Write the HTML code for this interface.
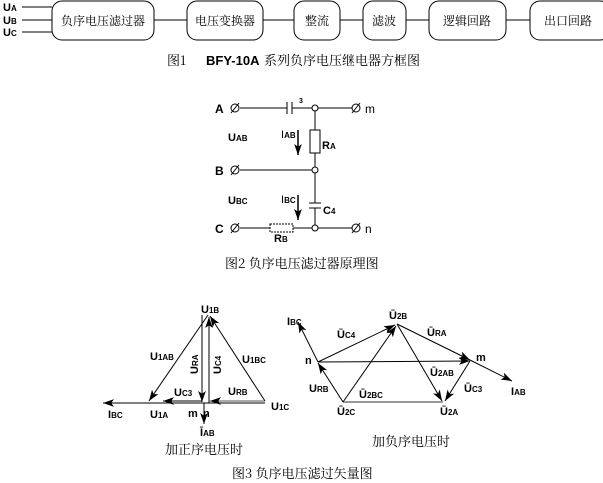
<!DOCTYPE html>
<html><head><meta charset="utf-8"><style>
html,body{margin:0;padding:0;background:#fff;width:603px;height:483px;overflow:hidden}
svg{display:block}
text{font-family:"Liberation Sans","Noto Sans CJK SC",sans-serif;fill:#000}
.cj{font-family:"Noto Serif CJK SC","Noto Sans CJK SC",serif}
</style></head><body>
<svg width="603" height="483" viewBox="0 0 603 483" xmlns="http://www.w3.org/2000/svg">
<defs>
<marker id="ahb" viewBox="0 0 10 10" refX="10" refY="5" markerWidth="11" markerHeight="11" orient="auto" markerUnits="userSpaceOnUse"><path d="M0,1.5 L10,5 L0,8.5 L2.5,5 Z" fill="#000"/></marker>
</defs>
<g stroke="#000" fill="none" stroke-width="1">
<!-- Fig1 -->
<line x1="22" y1="7" x2="52" y2="7"/><line x1="22" y1="20" x2="52" y2="20"/><line x1="22" y1="32" x2="52" y2="32"/>
<rect x="52" y="1" width="102" height="39" rx="10"/>
<rect x="187" y="1" width="76" height="39" rx="10"/>
<rect x="294" y="1" width="46" height="39" rx="10"/>
<rect x="363" y="1" width="43" height="39" rx="10"/>
<rect x="429" y="1" width="77" height="39" rx="10"/>
<rect x="530" y="1" width="80" height="39" rx="10"/>
<line x1="154" y1="20" x2="187" y2="20"/><line x1="263" y1="20" x2="294" y2="20"/><line x1="340" y1="20" x2="363" y2="20"/><line x1="406" y1="20" x2="429" y2="20"/><line x1="506" y1="20" x2="530" y2="20"/>
<!-- Fig2 -->
<line x1="240" y1="108" x2="287" y2="108"/><line x1="287" y1="102" x2="287" y2="114"/><line x1="292" y1="102" x2="292" y2="114"/>
<line x1="292" y1="108" x2="312" y2="108"/><line x1="318" y1="108" x2="352" y2="108"/>
<line x1="240" y1="170" x2="312" y2="170"/>
<line x1="240" y1="228" x2="270" y2="228"/><line x1="293" y1="228" x2="312" y2="228"/><line x1="318" y1="228" x2="352" y2="228"/>
<line x1="315" y1="111" x2="315" y2="130"/><rect x="310" y="130" width="10" height="23"/><line x1="315" y1="153" x2="315" y2="167"/>
<line x1="315" y1="173" x2="315" y2="203"/><line x1="309" y1="203" x2="321" y2="203"/><line x1="309" y1="208" x2="321" y2="208"/><line x1="315" y1="208" x2="315" y2="225"/>
<rect x="270" y="224" width="23" height="8" stroke-dasharray="2 1"/>
<circle cx="315" cy="108" r="3"/><circle cx="315" cy="170" r="3"/><circle cx="315" cy="228" r="3"/>
<g><circle cx="235" cy="108" r="4"/><line x1="231" y1="113" x2="239" y2="103"/>
<circle cx="235" cy="170" r="4"/><line x1="231" y1="175" x2="239" y2="165"/>
<circle cx="235" cy="228" r="4"/><line x1="231" y1="233" x2="239" y2="223"/>
<circle cx="356" cy="108" r="4"/><line x1="352" y1="113" x2="360" y2="103"/>
<circle cx="356" cy="228" r="4"/><line x1="352" y1="233" x2="360" y2="223"/></g>
<line x1="298" y1="130" x2="298" y2="155" marker-end="url(#ahb)" stroke-width="1.5"/>
<line x1="298" y1="195" x2="298" y2="220" marker-end="url(#ahb)" stroke-width="1.5"/>
<!-- Fig3 left -->
<line x1="265" y1="403" x2="103" y2="403" marker-end="url(#ahb)"/>
<line x1="208" y1="315" x2="149" y2="401" marker-end="url(#ahb)"/>
<line x1="265" y1="401" x2="210" y2="316" marker-end="url(#ahb)"/>
<line x1="202" y1="315" x2="202" y2="402" marker-end="url(#ahb)"/>
<line x1="209" y1="403" x2="209" y2="317" marker-end="url(#ahb)"/>
<line x1="202" y1="401" x2="163" y2="401" marker-end="url(#ahb)"/>
<line x1="265" y1="401" x2="210" y2="401" marker-end="url(#ahb)" stroke="#555"/>
<line x1="204" y1="403" x2="204" y2="424" marker-end="url(#ahb)"/>
<!-- Fig3 right -->
<line x1="343" y1="402" x2="443" y2="402" stroke="#777" stroke-width="1.5"/>
<line x1="318" y1="362" x2="395" y2="325" marker-end="url(#ahb)"/>
<line x1="343" y1="402" x2="396" y2="326" marker-end="url(#ahb)"/>
<line x1="343" y1="402" x2="318" y2="363" marker-end="url(#ahb)"/>
<line x1="318" y1="362" x2="298" y2="322" marker-end="url(#ahb)"/>
<line x1="318" y1="362" x2="470" y2="361" marker-end="url(#ahb)"/>
<line x1="397" y1="324" x2="470" y2="360" marker-end="url(#ahb)"/>
<line x1="470" y1="360" x2="512" y2="381" marker-end="url(#ahb)"/>
<line x1="397" y1="324" x2="442" y2="401" marker-end="url(#ahb)"/>
<line x1="470" y1="361" x2="445" y2="401" marker-end="url(#ahb)"/>
</g>
<!-- texts -->
<g font-size="11" font-weight="bold">
<text x="3" y="11">U<tspan font-size="8">A</tspan></text>
<text x="3" y="24">U<tspan font-size="8">B</tspan></text>
<text x="3" y="36">U<tspan font-size="8">C</tspan></text>
</g>
<g font-size="12">
<text x="103" y="25" text-anchor="middle" class="cj">负序电压滤过器</text>
<text x="225" y="25" text-anchor="middle" class="cj">电压变换器</text>
<text x="317" y="25" text-anchor="middle" class="cj">整流</text>
<text x="384" y="25" text-anchor="middle" class="cj">滤波</text>
<text x="467" y="25" text-anchor="middle" class="cj">逻辑回路</text>
<text x="568" y="25" text-anchor="middle" class="cj">出口回路</text>
</g>
<text x="167" y="65" font-size="13" class="cj">图1</text>
<text x="206" y="65" font-size="13" font-weight="bold">BFY-10A</text>
<text x="264" y="65" font-size="13" class="cj">系列负序电压继电器方框图</text>
<g font-size="12" font-weight="bold">
<text x="215" y="113">A</text><text x="215" y="175">B</text><text x="215" y="233">C</text>
<text x="365" y="113" font-weight="normal">m</text><text x="365" y="233" font-weight="normal">n</text>
<text x="228" y="141" font-size="11">U<tspan font-size="8">AB</tspan></text>
<text x="228" y="204" font-size="11">U<tspan font-size="8">BC</tspan></text>
<text x="281" y="138" font-size="11" font-weight="normal">I<tspan font-size="8" font-weight="bold">AB</tspan></text>
<text x="281" y="203" font-size="11" font-weight="normal">I<tspan font-size="8" font-weight="bold">BC</tspan></text>
<text x="322" y="149" font-size="11">R<tspan font-size="8">A</tspan></text>
<text x="323" y="214" font-size="11">C<tspan font-size="8">4</tspan></text>
<text x="274" y="242" font-size="11">R<tspan font-size="8">B</tspan></text>
<text x="299" y="103" font-size="7">3</text>
</g>
<text x="225" y="268" font-size="13" class="cj">图2  负序电压滤过器原理图</text>
<g font-size="11" font-weight="bold">
<text x="201" y="313">U<tspan font-size="8">1B</tspan></text>
<text x="150" y="360">U<tspan font-size="8">1AB</tspan></text>
<text x="242" y="363">U<tspan font-size="8">1BC</tspan></text>
<text x="174" y="396">U<tspan font-size="8">C3</tspan></text>
<text x="228" y="395">U<tspan font-size="8">RB</tspan></text>
<text x="150" y="418">U<tspan font-size="8">1A</tspan></text>
<text x="271" y="410">U<tspan font-size="8">1C</tspan></text>
<text x="108" y="418">I<tspan font-size="8">BC</tspan></text>
<text x="188" y="417">m</text><text x="203" y="417">n</text>
<text x="200" y="436">Ī<tspan font-size="8">AB</tspan></text>
<text transform="translate(198,374) rotate(-90)">U<tspan font-size="8">RA</tspan></text>
<text transform="translate(221,374) rotate(-90)">U<tspan font-size="8">C4</tspan></text>
<text x="389" y="319">Ū<tspan font-size="8">2B</tspan></text>
<text x="287" y="325">I<tspan font-size="8">BC</tspan></text>
<text x="337" y="338">Ū<tspan font-size="8">C4</tspan></text>
<text x="427" y="336">Ū<tspan font-size="8">RA</tspan></text>
<text x="305" y="364">n</text><text x="476" y="361">m</text>
<text x="430" y="376">Ū<tspan font-size="8">2AB</tspan></text>
<text x="464" y="392">Ū<tspan font-size="8">C3</tspan></text>
<text x="309" y="392">U<tspan font-size="8">RB</tspan></text>
<text x="359" y="398">Ū<tspan font-size="8">2BC</tspan></text>
<text x="337" y="415">Ū<tspan font-size="8">2C</tspan></text>
<text x="440" y="415">Ū<tspan font-size="8">2A</tspan></text>
<text x="511" y="395">I<tspan font-size="8">AB</tspan></text>
</g>
<text x="165" y="454" font-size="13" class="cj">加正序电压时</text>
<text x="372" y="446" font-size="13" class="cj">加负序电压时</text>
<text x="232" y="478" font-size="13" class="cj">图3  负序电压滤过矢量图</text>
</svg>
</body></html>
